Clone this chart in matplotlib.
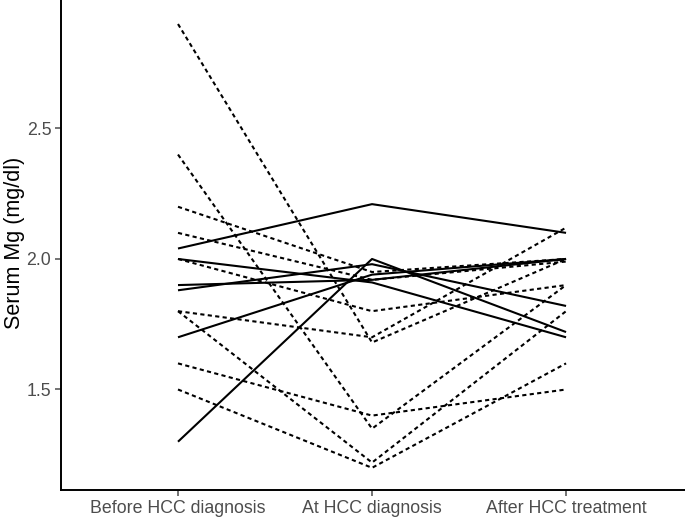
import matplotlib
matplotlib.use("Agg")
import matplotlib.pyplot as plt

plt.rcParams['font.family'] = ['Liberation Sans', 'DejaVu Sans']

stages = ["Before HCC diagnosis", "At HCC diagnosis", "After HCC treatment"]

# patients with solid lines
solid_series = [
    [2.04, 2.21, 2.10],
    [2.00, 1.91, 1.70],
    [1.90, 1.92, 2.00],
    [1.88, 1.98, 1.82],
    [1.70, 1.94, 2.00],
    [1.30, 2.00, 1.72],
]

# patients with dashed lines
dashed_series = [
    [2.90, 1.68, 2.00],
    [2.40, 1.35, 1.90],
    [2.20, 1.95, 2.00],
    [2.10, 1.92, 1.99],
    [2.00, 1.80, 1.90],
    [1.80, 1.70, 2.12],
    [1.80, 1.22, 1.80],
    [1.60, 1.40, 1.50],
    [1.50, 1.20, 1.60],
]

fig = plt.figure(figsize=(6.85, 5.19), dpi=100)
ax = fig.add_axes([61 / 685, 29 / 519, 624 / 685, 490 / 519])

x = list(range(len(stages)))
for vals in dashed_series:
    ax.plot(x, vals, color='black', lw=1.5, linestyle=(0, (2.0, 1.6)),
            dash_capstyle='butt')
for vals in solid_series:
    ax.plot(x, vals, color='black', lw=1.5, solid_capstyle='butt')

ax.set_xlim(-0.603, 2.613)
ax.set_ylim(1.115, 2.992)
ax.set_xticks(x)
ax.set_xticklabels(stages)
ax.set_yticks([1.5, 2.0, 2.5])
ax.set_yticklabels(["1.5", "2.0", "2.5"])
ax.tick_params(colors='#4D4D4D', labelsize=12.8, length=4, width=1.1, pad=3)
ax.tick_params(axis='x', labelcolor='#4D4D4D')
ax.set_ylabel("Serum Mg (mg/dl)", fontsize=15.5, color='black')
ax.yaxis.set_label_coords(-0.057, 0.505)

for side in ['top', 'right']:
    ax.spines[side].set_visible(False)
for side in ['left', 'bottom']:
    ax.spines[side].set_linewidth(1.4)
    ax.spines[side].set_color('black')

fig.savefig("out.png", dpi=100)
